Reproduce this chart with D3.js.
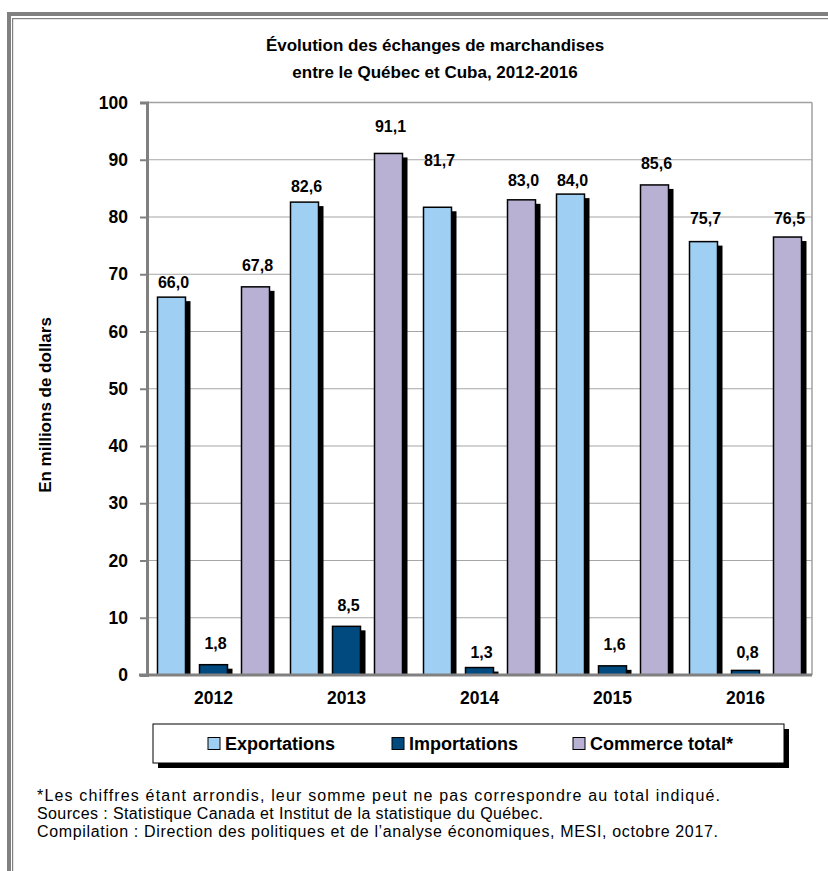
<!DOCTYPE html>
<html lang="fr">
<head>
    <meta charset="UTF-8">
    <title>Évolution des échanges de marchandises entre le Québec et Cuba</title>
    <style>
        body {
            margin: 0;
            background: #ffffff;
        }
        svg text {
            font-family: 'Liberation Sans', Arial, sans-serif;
        }
        .bold {
            font-weight: bold;
        }
    </style>
</head>
<body>
    <svg id="chart" width="828" height="871"></svg>

    <script src="https://d3js.org/d3.v7.min.js"></script>
    <script>
        // Data (millions de dollars)
        const years = ['2012', '2013', '2014', '2015', '2016'];
        const exportations = [66.0, 82.6, 81.7, 84.0, 75.7];
        const importations = [1.8, 8.5, 1.3, 1.6, 0.8];
        const commerceTotal = [67.8, 91.1, 83.0, 85.6, 76.5];
        const seriesNames = ['Exportations', 'Importations', 'Commerce total*'];
        const yTicks = [0, 10, 20, 30, 40, 50, 60, 70, 80, 90, 100];
        const footnotes = [
            '*Les chiffres étant arrondis, leur somme peut ne pas correspondre au total indiqué.',
            'Sources : Statistique Canada et Institut de la statistique du Québec.',
            'Compilation : Direction des politiques et de l\u2019analyse économiques, MESI, octobre 2017.'
        ];

        // label lift above each bar (px), labels were placed by hand in the original
        const labelLift = [
            [9, 16, 16],
            [10, 15, 21],
            [41, 10, 14],
            [8, 16, 16],
            [18, 12, 13]
        ];

        const colors = ['#9fd0f4', '#004a80', '#b9b1d4'];
        const frameGray = '#808080';

        const svg = d3.select('#chart');

        // outer frame (double grey line, top and left)
        svg.append('rect').attr('x', 7).attr('y', 12).attr('width', 821).attr('height', 4).attr('fill', frameGray);
        svg.append('rect').attr('x', 7).attr('y', 12).attr('width', 4).attr('height', 859).attr('fill', frameGray);
        svg.append('rect').attr('x', 12).attr('y', 18).attr('width', 816).attr('height', 1.2).attr('fill', frameGray);
        svg.append('rect').attr('x', 12).attr('y', 18).attr('width', 1.2).attr('height', 853).attr('fill', frameGray);

        // title
        const title = svg.append('text')
            .attr('class', 'bold')
            .attr('text-anchor', 'middle')
            .attr('font-size', 17)
            .attr('fill', '#000');
        title.append('tspan').attr('x', 435).attr('y', 51).text('Évolution des échanges de marchandises');
        title.append('tspan').attr('x', 435).attr('y', 78).text('entre le Québec et Cuba, 2012-2016');

        // scales
        const plot = { left: 147, right: 812, top: 102.5, bottom: 675 };

        const y = d3.scaleLinear()
            .domain([0, 100])
            .range([plot.bottom, plot.top]);

        const x = d3.scaleBand()
            .domain(years)
            .range([plot.left, plot.right])
            .padding(0);

        const xSeries = d3.scaleBand()
            .domain(seriesNames)
            .range([0, x.bandwidth()])
            .paddingInner(1 / 3)
            .paddingOuter(0.25);

        // gridlines
        svg.append('g')
            .selectAll('line')
            .data(yTicks.filter(d => d > 0))
            .join('line')
            .attr('x1', plot.left)
            .attr('x2', plot.right)
            .attr('y1', d => y(d))
            .attr('y2', d => y(d))
            .attr('stroke', '#a6a6a6')
            .attr('stroke-width', 1.2);

        // plot area border right / top
        svg.append('line')
            .attr('x1', plot.right).attr('x2', plot.right)
            .attr('y1', plot.top).attr('y2', plot.bottom)
            .attr('stroke', '#a0a0a0').attr('stroke-width', 1.5);
        svg.append('line')
            .attr('x1', plot.left).attr('x2', plot.right)
            .attr('y1', plot.top).attr('y2', plot.top)
            .attr('stroke', '#a0a0a0').attr('stroke-width', 1.5);

        // y axis
        const yAxis = svg.append('g')
            .attr('transform', `translate(${plot.left},0)`)
            .call(d3.axisLeft(y).tickValues(yTicks).tickSize(7).tickPadding(12).tickFormat(d3.format('d')));
        yAxis.select('.domain').attr('stroke', frameGray).attr('stroke-width', 3);
        yAxis.selectAll('.tick line').attr('stroke', frameGray).attr('stroke-width', 2);
        yAxis.selectAll('.tick text')
            .attr('class', 'bold')
            .attr('font-size', 17.5)
            .attr('font-family', "'Liberation Sans', Arial, sans-serif")
            .attr('fill', '#000');

        // bars
        const seriesValues = [exportations, importations, commerceTotal];
        const barData = [];
        years.forEach((yr, i) => {
            seriesNames.forEach((s, j) => {
                barData.push({ year: yr, series: s, idx: j, value: seriesValues[j][i], lift: labelLift[i][j] });
            });
        });

        const barX = d => x(d.year) + xSeries(d.series);
        const bw = xSeries.bandwidth();

        // shadows
        svg.append('g')
            .selectAll('rect')
            .data(barData)
            .join('rect')
            .attr('x', d => barX(d) + 5)
            .attr('y', d => y(d.value) + 4)
            .attr('width', bw)
            .attr('height', d => Math.max(0, y(0) - y(d.value) - 4))
            .attr('fill', '#000');

        svg.append('g')
            .selectAll('rect')
            .data(barData)
            .join('rect')
            .attr('x', d => barX(d))
            .attr('y', d => y(d.value))
            .attr('width', bw)
            .attr('height', d => y(0) - y(d.value))
            .attr('fill', d => colors[d.idx])
            .attr('stroke', '#000')
            .attr('stroke-width', 1.5);

        // value labels
        const fmt = v => d3.format('.1f')(v).replace('.', ',');
        svg.append('g')
            .selectAll('text')
            .data(barData)
            .join('text')
            .attr('class', 'bold')
            .attr('text-anchor', 'middle')
            .attr('font-size', 16)
            .attr('x', d => barX(d) + bw / 2 + 2)
            .attr('y', d => y(d.value) - d.lift)
            .text(d => fmt(d.value));

        // x axis
        const xAxis = svg.append('g')
            .attr('transform', `translate(0,${plot.bottom})`)
            .call(d3.axisBottom(x).tickSize(0).tickPadding(17));
        xAxis.select('.domain')
            .attr('d', `M${plot.left - 8},0H${plot.right}`)
            .attr('stroke', frameGray).attr('stroke-width', 3);
        xAxis.selectAll('.tick text')
            .attr('class', 'bold')
            .attr('font-size', 17.5)
            .attr('font-family', "'Liberation Sans', Arial, sans-serif")
            .attr('fill', '#000');

        // y axis title
        svg.append('text')
            .attr('class', 'bold')
            .attr('text-anchor', 'middle')
            .attr('font-size', 17)
            .attr('transform', 'translate(51,405) rotate(-90)')
            .text('En millions de dollars');

        // legend
        const legend = { x: 153, y: 724, w: 631, h: 39 };
        svg.append('rect')
            .attr('x', legend.x + 5).attr('y', legend.y + 5)
            .attr('width', legend.w).attr('height', legend.h)
            .attr('fill', '#000');
        svg.append('rect')
            .attr('x', legend.x).attr('y', legend.y)
            .attr('width', legend.w).attr('height', legend.h)
            .attr('fill', '#fff')
            .attr('stroke', '#000')
            .attr('stroke-width', 1);

        const legendX = [208, 392, 573];
        const items = svg.append('g')
            .selectAll('g')
            .data(seriesNames)
            .join('g')
            .attr('transform', (d, i) => `translate(${legendX[i]},${legend.y + legend.h / 2})`);
        items.append('rect')
            .attr('x', 0).attr('y', -6)
            .attr('width', 12).attr('height', 12)
            .attr('fill', (d, i) => colors[i])
            .attr('stroke', '#000')
            .attr('stroke-width', 1);
        items.append('text')
            .attr('class', 'bold')
            .attr('x', 17)
            .attr('y', 6.5)
            .attr('font-size', 18)
            .text(d => d);

        // footnotes (the original text box stretches them wider)
        const footWidths = [683, 506, 681];
        svg.append('g')
            .selectAll('text')
            .data(footnotes)
            .join('text')
            .attr('x', 37)
            .attr('y', (d, i) => 801 + i * 18)
            .attr('font-size', 16)
            .attr('textLength', (d, i) => footWidths[i])
            .attr('lengthAdjust', 'spacing')
            .text(d => d);
    </script>
</body>
</html>
